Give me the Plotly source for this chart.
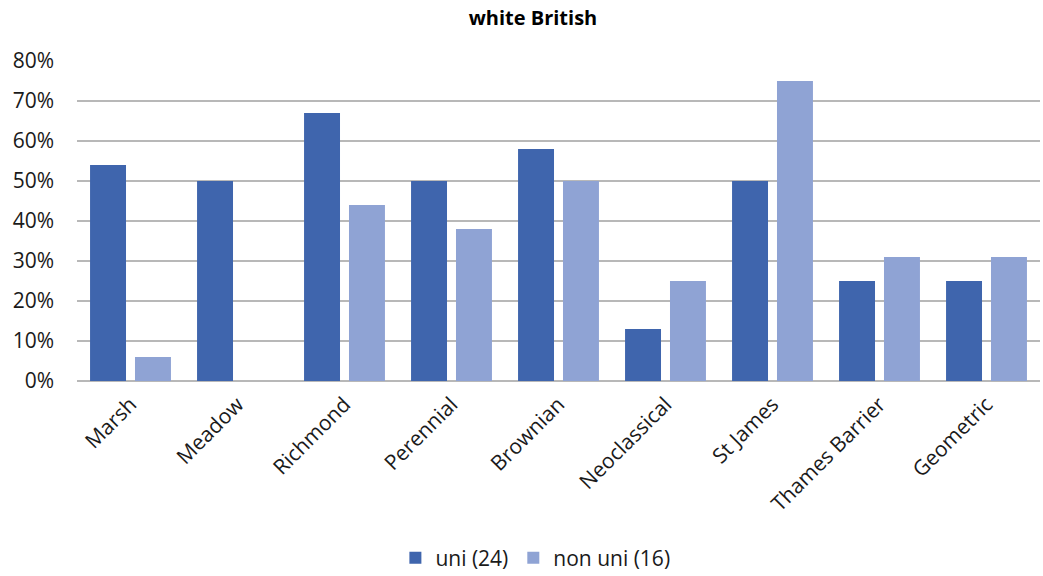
import plotly.graph_objects as go

categories = ["Marsh", "Meadow", "Richmond", "Perennial", "Brownian",
              "Neoclassical", "St James", "Thames Barrier", "Geometric"]
uni_values = [0.54, 0.50, 0.67, 0.50, 0.58, 0.13, 0.50, 0.25, 0.25]
non_uni_values = [0.06, 0.00, 0.44, 0.38, 0.50, 0.25, 0.75, 0.31, 0.31]
y_ticks = [0, 0.1, 0.2, 0.3, 0.4, 0.5, 0.6, 0.7, 0.8]

FONT = "Open Sans"

fig = go.Figure()
fig.add_trace(go.Bar(name="uni (24)", x=categories, y=uni_values,
                     marker=dict(color="#3F65AD", line_width=0)))
fig.add_trace(go.Bar(name="non uni (16)", x=categories, y=non_uni_values,
                     marker=dict(color="#8FA3D4", line_width=0)))

fig.update_layout(
    width=1043, height=576,
    margin=dict(l=77, r=3, t=61, b=195, autoexpand=False),
    paper_bgcolor="white", plot_bgcolor="white",
    barmode="group", bargap=0.16, bargroupgap=0.2,
    title=dict(text="<b>white British</b>", x=0.511, xanchor="center",
               y=0.968, yanchor="middle",
               font=dict(family=FONT, size=20, color="#000000")),
    font=dict(family=FONT, size=21, color="#1a1a1a"),
    legend=dict(orientation="h", x=0.476, xanchor="center",
                yref="container", y=0.031, yanchor="middle",
                font=dict(family=FONT, size=21, color="#1a1a1a"),
                itemwidth=30, traceorder="normal"),
    xaxis=dict(tickangle=-45, showgrid=False, showline=False, ticks="",
               automargin=False, ticklabelstandoff=6,
               tickfont=dict(family=FONT, size=21, color="#1a1a1a")),
    yaxis=dict(range=[0, 0.8], tickvals=y_ticks, tickformat=".0%",
               showgrid=True, gridcolor="#B8B8B8", gridwidth=1.5,
               zeroline=True, zerolinecolor="#B8B8B8", zerolinewidth=1.5,
               showline=False, ticks="", ticklabelstandoff=22,
               automargin=False,
               tickfont=dict(family=FONT, size=21, color="#1a1a1a")),
)

fig.write_html("out.html")
